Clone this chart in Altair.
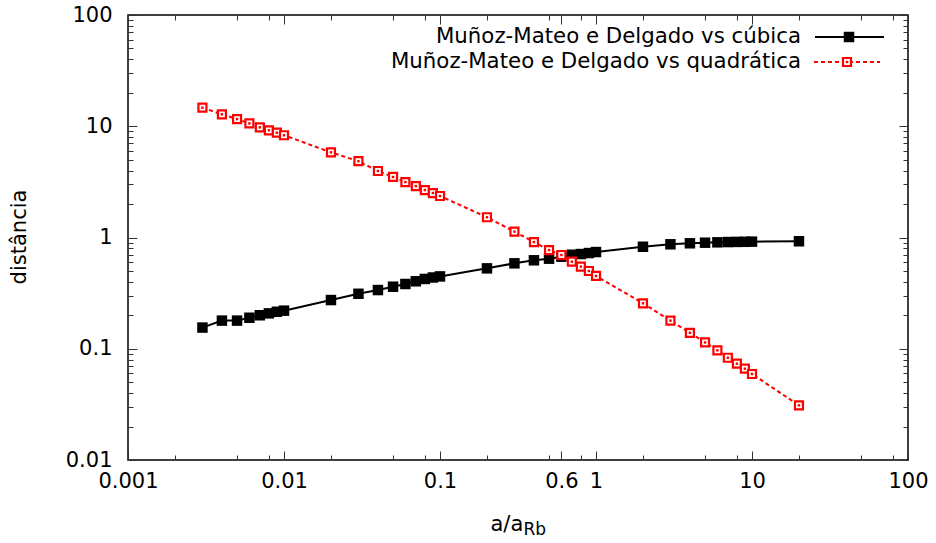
import altair as alt
import pandas as pd

# ---------------- data ----------------
x_vals = [0.003, 0.004, 0.005, 0.006, 0.007, 0.008, 0.009, 0.01,
          0.02, 0.03, 0.04, 0.05, 0.06, 0.07, 0.08, 0.09, 0.1,
          0.2, 0.3, 0.4, 0.5, 0.6, 0.7, 0.8, 0.9, 1,
          2, 3, 4, 5, 6, 7, 8, 9, 10, 20]
cubic = [0.155, 0.179, 0.179, 0.190, 0.200, 0.208, 0.215, 0.220,
         0.274, 0.312, 0.337, 0.361, 0.382, 0.404, 0.424, 0.437, 0.447,
         0.528, 0.586, 0.624, 0.645, 0.672, 0.700, 0.710, 0.725, 0.740,
         0.826, 0.869, 0.887, 0.898, 0.905, 0.910, 0.913, 0.915, 0.918, 0.925]
quad = [14.7, 12.8, 11.6, 10.6, 9.78, 9.2, 8.75, 8.3,
        5.83, 4.85, 3.96, 3.5, 3.15, 2.9, 2.67, 2.51, 2.36,
        1.52, 1.13, 0.91, 0.77, 0.696, 0.606, 0.547, 0.50, 0.451,
        0.256, 0.179, 0.139, 0.114, 0.0968, 0.083, 0.0734, 0.0662, 0.0593, 0.031]
series_names = ["Muñoz-Mateo e Delgado vs cúbica",
                "Muñoz-Mateo e Delgado vs quadrática"]
x_title_main = "a/a"
x_title_sub = "Rb"
y_title = "distância"

x_major = [0.001, 0.01, 0.1, 0.6, 1, 10, 100]
x_minor = [0.002, 0.005, 0.008, 0.02, 0.05, 0.08, 0.2, 0.5, 0.8,
           2, 5, 8, 20, 50, 80]
y_major = [0.01, 0.1, 1, 10, 100]
y_minor = [0.02, 0.03, 0.04, 0.05, 0.06, 0.07, 0.08, 0.09,
           0.2, 0.3, 0.4, 0.5, 0.6, 0.7, 0.8, 0.9,
           2, 3, 4, 5, 6, 7, 8, 9,
           20, 30, 40, 50, 60, 70, 80, 90]

df = pd.DataFrame({"x": x_vals, "c": cubic, "q": quad})

FONT = "DejaVu Sans"
W, H = 780, 445


def arr(vals):
    return "[" + ",".join(repr(v) for v in vals) + "]"


x_test = "indexof(%s, datum.value) >= 0" % arr(x_major)
y_test = "indexof(%s, datum.value) >= 0" % arr(y_major)


def make_axis(orient, test, major, minor, labels, pad):
    kw = dict(
        orient=orient, values=major + minor, title=None, grid=False,
        domain=False, ticks=True, tickColor="#333", tickWidth=1,
        tickSize={"condition": {"test": test, "value": -9}, "value": -5},
        labels=labels, labelOverlap=False, labelFlush=False, labelBound=False,
        labelFont=FONT, labelFontSize=21, labelColor="black",
    )
    if labels:
        kw["labelExpr"] = "(%s) ? format(datum.value, '~g') : ''" % test
        kw["labelPadding"] = pad
    return alt.Axis(**kw)


xs = alt.Scale(type="log", domain=[0.001, 100], nice=False)
ys = alt.Scale(type="log", domain=[0.01, 100], nice=False)

ax_bottom = make_axis("bottom", x_test, x_major, x_minor, True, 19.5)
ax_top = make_axis("top", x_test, x_major, x_minor, False, 0)
ax_left = make_axis("left", y_test, y_major, y_minor, True, 25)
ax_right = make_axis("right", y_test, y_major, y_minor, False, 0)

base = alt.Chart(df)

black_line = base.mark_line(color="black", strokeWidth=2).encode(
    x=alt.X("x:Q", scale=xs, axis=ax_bottom),
    y=alt.Y("c:Q", scale=ys, axis=ax_left),
)
black_pts = base.mark_square(size=110, color="black", opacity=1).encode(
    x=alt.X("x:Q", scale=xs, axis=None),
    y=alt.Y("c:Q", scale=ys, axis=None),
)
red_line = base.mark_line(color="red", strokeWidth=2, strokeDash=[4, 3]).encode(
    x=alt.X("x:Q", scale=xs, axis=ax_top),
    y=alt.Y("q:Q", scale=ys, axis=ax_right),
)
red_pts = base.mark_square(size=64, fill="white", stroke="red",
                           strokeWidth=2.2, opacity=1).encode(
    x=alt.X("x:Q", scale=xs, axis=None),
    y=alt.Y("q:Q", scale=ys, axis=None),
)
red_inner = base.mark_square(size=6, color="red", opacity=1).encode(
    x=alt.X("x:Q", scale=xs, axis=None),
    y=alt.Y("q:Q", scale=ys, axis=None),
)

# ---------------- key (top right, gnuplot style) ----------------
one = pd.DataFrame({"k": [0]})
leg_rows = [22, 47]
LEG_FS = 21.3

leg_text1 = alt.Chart(pd.DataFrame({"t": [series_names[0]]})).mark_text(
    align="right", baseline="middle", font=FONT, fontSize=LEG_FS, color="black"
).encode(text="t:N", x=alt.value(673), y=alt.value(leg_rows[0]))
leg_text2 = alt.Chart(pd.DataFrame({"t": [series_names[1]]})).mark_text(
    align="right", baseline="middle", font=FONT, fontSize=LEG_FS, color="black"
).encode(text="t:N", x=alt.value(673), y=alt.value(leg_rows[1]))

leg_l1 = alt.Chart(one).mark_rule(color="black", strokeWidth=2).encode(
    x=alt.value(687), x2=alt.value(756), y=alt.value(leg_rows[0]))
leg_p1 = alt.Chart(one).mark_square(size=110, color="black", opacity=1).encode(
    x=alt.value(721), y=alt.value(leg_rows[0]))
leg_l2 = alt.Chart(one).mark_rule(color="red", strokeWidth=2, strokeDash=[4, 3]).encode(
    x=alt.value(686), x2=alt.value(752), y=alt.value(leg_rows[1]))
leg_p2 = alt.Chart(one).mark_square(size=64, fill="white", stroke="red",
                                    strokeWidth=2.2, opacity=1).encode(
    x=alt.value(719), y=alt.value(leg_rows[1]))
leg_p2i = alt.Chart(one).mark_square(size=6, color="red", opacity=1).encode(
    x=alt.value(719), y=alt.value(leg_rows[1]))

# ---------------- axis titles ----------------
xt_main = alt.Chart(pd.DataFrame({"t": [x_title_main]})).mark_text(
    align="left", baseline="alphabetic", font=FONT, fontSize=21, color="black"
).encode(text="t:N", x=alt.value(362.5), y=alt.value(516))
xt_sub = alt.Chart(pd.DataFrame({"t": [x_title_sub]})).mark_text(
    align="left", baseline="alphabetic", font=FONT, fontSize=17, color="black"
).encode(text="t:N", x=alt.value(395.5), y=alt.value(520))
yt = alt.Chart(pd.DataFrame({"t": [y_title]})).mark_text(
    align="center", baseline="middle", font=FONT, fontSize=21, color="black",
    angle=270
).encode(text="t:N", x=alt.value(-108), y=alt.value(222))

chart = alt.layer(
    black_line, black_pts, red_line, red_pts, red_inner,
    leg_l1, leg_p1, leg_l2, leg_p2, leg_p2i, leg_text1, leg_text2,
    xt_main, xt_sub, yt,
).resolve_scale(x="shared", y="shared").resolve_axis(
    x="independent", y="independent"
).properties(
    width=W, height=H,
    autosize=alt.AutoSizeParams(type="none"),
    padding={"left": 128, "top": 15, "right": 28, "bottom": 83},
    background="white",
).configure_view(stroke="black", strokeWidth=1.5)

chart.save("out.html", embed_options={"renderer": "svg", "actions": False})
